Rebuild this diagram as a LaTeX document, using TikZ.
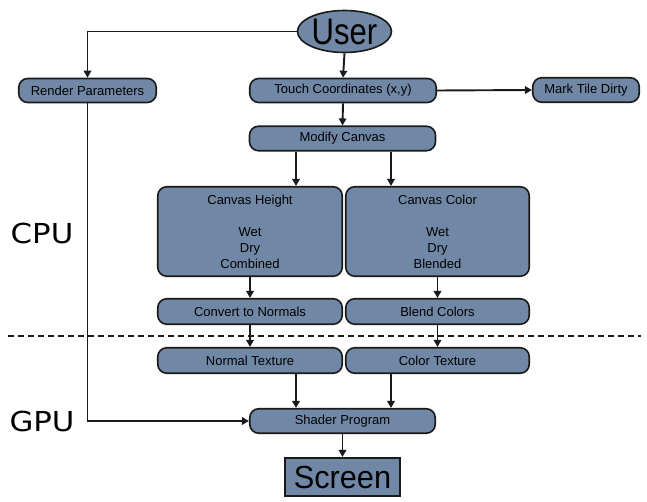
\documentclass[tikz,border=0pt]{standalone}
\usepackage{fontspec}
\usepackage{graphicx}
\setmainfont{Liberation Sans}
\newfontfamily\labfont{DejaVu Sans}
\usetikzlibrary{arrows.meta,shapes.geometric}
\definecolor{boxfill}{HTML}{7088A6}
\definecolor{boxline}{HTML}{1A1A1A}
\tikzset{
  flow/.style={draw=boxline, line width=1.6pt, fill=boxfill, rounded corners=9pt, inner sep=0pt,
    font=\fontsize{13}{16}\selectfont, align=center},
  conn/.style={line width=1.9pt, draw=boxline, -{Triangle[length=7pt,width=7.5pt]}},
  side/.style={font=\labfont\fontsize{27.5}{30}\selectfont, inner sep=0pt},
}
\begin{document}
\begin{tikzpicture}[x=1pt,y=-1pt]
\useasboundingbox (0,0) rectangle (647,502);
\node[ellipse, draw=boxline, line width=1.6pt, fill=boxfill, minimum width=94pt, minimum height=42pt, inner sep=0pt]
  (user) at (344.5,31.5) {\fontsize{37}{40}\selectfont\scalebox{0.84}[1]{User}};
\node[flow, minimum width=137.5pt, minimum height=24pt] (rp) at (87.5,90.5) {Render Parameters};
\node[flow, minimum width=186.5pt, minimum height=24pt] (tc) at (343,90.5) {Touch Coordinates (x,y)};
\node[flow, minimum width=106.5pt, minimum height=24.5pt] (mtd) at (586,90) {Mark Tile Dirty};
\node[flow, minimum width=186pt, minimum height=24.5pt] (mc) at (342.5,138.5) {Modify Canvas};
\node[flow, minimum width=184.5pt, minimum height=89.5pt] (ch) at (250,231.5) {Canvas Height\\[16pt]Wet\\Dry\\Combined};
\node[flow, minimum width=183.5pt, minimum height=89.5pt] (cc) at (437.5,231.5) {Canvas Color\\[16pt]Wet\\Dry\\Blended};
\node[flow, minimum width=184.5pt, minimum height=25.5pt] (cn) at (250,311.5) {Convert to Normals};
\node[flow, minimum width=183.5pt, minimum height=25.5pt] (bc) at (437.5,311.5) {Blend Colors};
\node[flow, minimum width=184.5pt, minimum height=25.5pt] (nt) at (250,360.5) {Normal Texture};
\node[flow, minimum width=183.5pt, minimum height=25.5pt] (ct) at (437.5,360.5) {Color Texture};
\node[flow, minimum width=185.5pt, minimum height=24.5pt] (sp) at (342.5,421) {Shader Program};
\node[draw=boxline, line width=1.6pt, fill=boxfill, minimum width=115.5pt, minimum height=38.5pt, inner sep=0pt]
  (scr) at (342.5,477) {\fontsize{32}{36}\selectfont\scalebox{0.96}[1]{Screen}};
\node[side] (cpu) at (42,233) {\scalebox{1.12}[1]{CPU}};
\node[side] (gpu) at (42,421) {\scalebox{1.12}[1]{GPU}};
\coordinate (dl) at (8,336);
\coordinate (dr) at (641,336);
\draw[line width=2pt, draw=boxline, dash pattern=on 6pt off 4pt] (dl) -- (dr);
% connectors
\draw[conn] (user.west) -| (rp.north);
\draw[conn] (user.south) -- (tc.north);
\draw[conn] (tc.east) -- (mtd.west);
\draw[conn] (tc.south) -- (mc.north);
\draw[conn] (mc.south -| 296,0) -- (ch.north -| 296,0);
\draw[conn] (mc.south -| 391,0) -- (cc.north -| 391,0);
\draw[conn] (ch.south) -- (cn.north);
\draw[conn] (cc.south) -- (bc.north);
\draw[conn] (cn.south) -- (nt.north);
\draw[conn] (bc.south) -- (ct.north);
\draw[conn] (nt.south -| 296,0) -- (sp.north -| 296,0);
\draw[conn] (ct.south -| 391,0) -- (sp.north -| 391,0);
\draw[conn] (rp.south) |- (sp.west);
\draw[conn] (sp.south) -- (scr.north);
\end{tikzpicture}
\end{document}
